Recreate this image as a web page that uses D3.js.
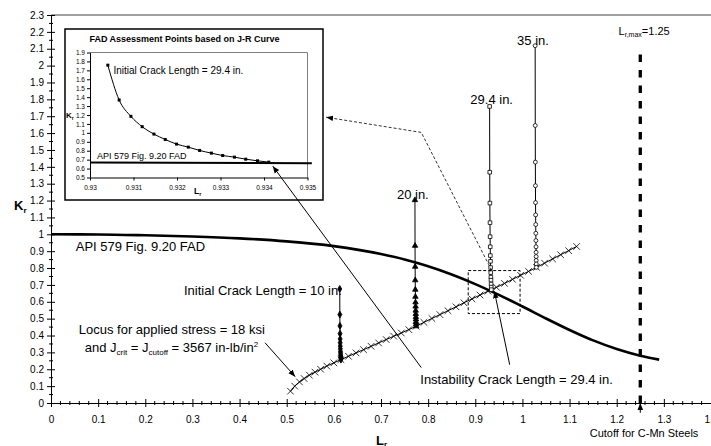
<!DOCTYPE html>
<html>
<head>
<meta charset="utf-8">
<script src="https://cdn.jsdelivr.net/npm/d3@7"></script>
<style>
body { margin: 0; background: #fff; }
svg { display: block; }
</style>
</head>
<body>
<svg width="711" height="446"></svg>
<script>
// ---- data ----

// API 579 Fig. 9.20 FAD curve
var fadLr = [0, 0.1, 0.2, 0.3, 0.4, 0.5, 0.6, 0.7, 0.75, 0.8, 0.85, 0.9, 0.95, 1.0, 1.05, 1.1, 1.15, 1.2, 1.25, 1.29];
var fadKr = [1.0, 0.999, 0.994, 0.987, 0.976, 0.958, 0.930, 0.883, 0.851, 0.811, 0.762, 0.705, 0.641, 0.572, 0.501, 0.433, 0.371, 0.320, 0.280, 0.257];

// locus for applied stress = 18 ksi (one point per inch of crack length)
var locusLr = [0.508, 0.517, 0.527, 0.537, 0.548, 0.560, 0.572, 0.585, 0.600, 0.615,
               0.631, 0.647, 0.663, 0.679, 0.695, 0.711, 0.727, 0.743, 0.759, 0.7745,
               0.791, 0.808, 0.825, 0.842, 0.859, 0.876, 0.893, 0.910, 0.927, 0.945,
               0.962, 0.979, 0.996, 1.013, 1.030, 1.047, 1.064, 1.081, 1.098, 1.115];
var locusKr = [0.070, 0.100, 0.125, 0.145, 0.165, 0.183, 0.200, 0.219, 0.238, 0.257,
               0.277, 0.297, 0.316, 0.336, 0.356, 0.376, 0.396, 0.415, 0.435, 0.455,
               0.478, 0.501, 0.524, 0.547, 0.570, 0.594, 0.617, 0.640, 0.663, 0.686,
               0.709, 0.733, 0.757, 0.780, 0.804, 0.829, 0.854, 0.879, 0.903, 0.928];

// assessment points along the J-R curve, per initial crack length
var lr10 = [0.6125, 0.6127, 0.6129, 0.6131, 0.6133, 0.6134, 0.6136, 0.6138, 0.6140, 0.6142, 0.6144, 0.6145, 0.6147, 0.6149, 0.6150];
var kr10 = [0.676, 0.524, 0.457, 0.411, 0.380, 0.357, 0.337, 0.321, 0.306, 0.296, 0.285, 0.278, 0.270, 0.265, 0.257];

var lr20 = [0.7720, 0.7722, 0.7724, 0.7726, 0.7728, 0.7730, 0.7732, 0.7734, 0.7736, 0.7738, 0.7740, 0.7741, 0.7742, 0.7744, 0.7745];
var kr20 = [1.203, 0.932, 0.808, 0.728, 0.672, 0.630, 0.597, 0.572, 0.548, 0.528, 0.510, 0.496, 0.481, 0.467, 0.455];

var lr29 = [0.93041, 0.93067, 0.93094, 0.93120, 0.93147, 0.93173, 0.93199, 0.93226, 0.93252, 0.93279, 0.93305, 0.93332, 0.93358, 0.93385, 0.93411];
var kr29 = [1.758, 1.368, 1.185, 1.069, 0.986, 0.926, 0.874, 0.840, 0.803, 0.773, 0.746, 0.728, 0.705, 0.687, 0.672];

var lr35 = [1.0270, 1.0272, 1.0274, 1.0276, 1.0278, 1.0280, 1.0282, 1.0284, 1.0286, 1.0288, 1.0290, 1.0291, 1.0292, 1.0294, 1.0295];
var kr35 = [2.118, 1.645, 1.428, 1.288, 1.188, 1.115, 1.058, 1.006, 0.963, 0.926, 0.893, 0.868, 0.845, 0.824, 0.804];

// Lr,max cutoff for C-Mn steels
var lrMax = 1.25;
var cutoffKr = [0, 2.1];

// FAD line as seen in the inset
var insetFadLr = [0.93, 0.9351];
var insetFadKr = [0.668, 0.661];

// tick labels
var xTickValues = [0, 0.1, 0.2, 0.3, 0.4, 0.5, 0.6, 0.7, 0.8, 0.9, 1, 1.1, 1.2, 1.3, 1.4];
var yTickValues = [0, 0.1, 0.2, 0.3, 0.4, 0.5, 0.6, 0.7, 0.8, 0.9, 1, 1.1, 1.2, 1.3, 1.4, 1.5, 1.6, 1.7, 1.8, 1.9, 2, 2.1, 2.2, 2.3];
var insetXTicks = [0.93, 0.931, 0.932, 0.933, 0.934, 0.935];
var insetYTicks = [0.5, 0.6, 0.7, 0.8, 0.9, 1, 1.1, 1.2, 1.3, 1.4, 1.5, 1.6, 1.7, 1.8, 1.9];

// ---- layout ----
var svg = d3.select('svg');
var svgWidth = +svg.attr('width');
var svgHeight = +svg.attr('height');
var font = "'Liberation Sans', Arial, Helvetica, sans-serif";
svg.attr('font-family', font);

var padding = {t: 15, r: 0, b: 43, l: 51};
var chartWidth = svgWidth - padding.l - padding.r;
var chartHeight = svgHeight - padding.t - padding.b;

var chartG = svg.append('g')
    .attr('transform', 'translate(' + [padding.l, padding.t] + ')');

var xScale = d3.scaleLinear().domain([0, 1.4]).range([0, chartWidth]);
var yScale = d3.scaleLinear().domain([0, 2.3]).range([chartHeight, 0]);

var line = d3.line()
    .x(function(d) { return xScale(d[0]); })
    .y(function(d) { return yScale(d[1]); });

// arrow heads
var defs = svg.append('defs');
defs.append('marker')
    .attr('id', 'arrow')
    .attr('viewBox', '0 0 10 10')
    .attr('refX', 10).attr('refY', 5)
    .attr('markerWidth', 7).attr('markerHeight', 7)
    .attr('markerUnits', 'userSpaceOnUse')
    .attr('orient', 'auto')
    .append('path')
    .attr('d', 'M0,1 L10,5 L0,9 z')
    .attr('fill', '#000');

// top border of plot area
chartG.append('line')
    .attr('x1', 0).attr('x2', chartWidth)
    .attr('y1', 0).attr('y2', 0)
    .attr('stroke', '#808080').attr('stroke-width', 1.5);

// ---- axes ----
var xAxisG = chartG.append('g')
    .attr('transform', 'translate(' + [0, chartHeight] + ')')
    .call(d3.axisBottom(xScale).tickValues(xTickValues).tickSize(0).tickSizeOuter(0)
        .tickPadding(12.5).tickFormat(String));
xAxisG.selectAll('.tick line').attr('y1', -4).attr('y2', 4).attr('stroke', '#000');
xAxisG.select('.domain').attr('stroke', '#000');
xAxisG.attr('font-family', font).attr('font-size', 10);
xAxisG.selectAll('text').attr('fill', '#000');

var yAxisG = chartG.append('g')
    .call(d3.axisLeft(yScale).tickValues(yTickValues).tickSize(0).tickSizeOuter(0)
        .tickPadding(7).tickFormat(String));
yAxisG.selectAll('.tick line').attr('x1', -4).attr('x2', 4).attr('stroke', '#000');
yAxisG.select('.domain').attr('stroke', '#000');
yAxisG.attr('font-family', font).attr('font-size', 10);
yAxisG.selectAll('text').attr('fill', '#000');

// minor ticks
var xMinor = d3.range(1, 70).filter(function(i) { return i % 5 !== 0; }).map(function(i) { return i * 0.02; });
var yMinor = d3.range(1, 46, 2).map(function(i) { return i * 0.05; });
chartG.append('g').selectAll('line').data(xMinor).enter().append('line')
    .attr('x1', function(d) { return xScale(d); })
    .attr('x2', function(d) { return xScale(d); })
    .attr('y1', chartHeight - 2).attr('y2', chartHeight + 2)
    .attr('stroke', '#000');
chartG.append('g').selectAll('line').data(yMinor).enter().append('line')
    .attr('y1', function(d) { return yScale(d); })
    .attr('y2', function(d) { return yScale(d); })
    .attr('x1', -2).attr('x2', 2)
    .attr('stroke', '#000');

// axis titles
var kLabel = svg.append('text')
    .attr('x', 14).attr('y', 209.5)
    .attr('font-size', 13).attr('font-weight', 'bold');
kLabel.append('tspan').text('K');
kLabel.append('tspan').attr('font-size', 8).attr('dy', 3).text('r');

var lLabel = svg.append('text')
    .attr('x', 376).attr('y', 445)
    .attr('font-size', 13).attr('font-weight', 'bold');
lLabel.append('tspan').text('L');
lLabel.append('tspan').attr('font-size', 8).attr('dy', 2).text('r');

// ---- series ----

// FAD curve
chartG.append('path')
    .datum(d3.zip(fadLr, fadKr))
    .attr('d', line.curve(d3.curveMonotoneX))
    .attr('fill', 'none')
    .attr('stroke', '#000')
    .attr('stroke-width', 2.6);
line.curve(d3.curveLinear);

// Lr,max cutoff
chartG.append('path')
    .datum(cutoffKr.map(function(k) { return [lrMax, k]; }))
    .attr('d', line)
    .attr('stroke', '#000')
    .attr('stroke-width', 3.3)
    .attr('stroke-dasharray', '7.5,8');

// locus
chartG.append('path')
    .datum(d3.zip(locusLr, locusKr))
    .attr('d', line)
    .attr('fill', 'none')
    .attr('stroke', '#000')
    .attr('stroke-width', 1);
chartG.append('g').selectAll('path')
    .data(d3.zip(locusLr, locusKr))
    .enter().append('path')
    .attr('transform', function(d) { return 'translate(' + [xScale(d[0]), yScale(d[1])] + ')'; })
    .attr('d', d3.symbol().type(d3.symbolX).size(30))
    .attr('fill', 'none')
    .attr('stroke', '#000')
    .attr('stroke-width', 0.8);

var growth = [
    {lr: lr10, kr: kr10, symbol: d3.symbolDiamond, size: 14, fill: '#000'},
    {lr: lr20, kr: kr20, symbol: d3.symbolTriangle, size: 13, fill: '#000'},
    {lr: lr29, kr: kr29, symbol: d3.symbolSquare, size: 13, fill: '#fff'},
    {lr: lr35, kr: kr35, symbol: d3.symbolCircle, size: 12, fill: '#fff'}
];

growth.forEach(function(s) {
    var pts = d3.zip(s.lr, s.kr);
    chartG.append('path')
        .datum(pts)
        .attr('d', line)
        .attr('fill', 'none')
        .attr('stroke', '#000')
        .attr('stroke-width', 1);
    chartG.append('g').selectAll('path')
        .data(pts)
        .enter().append('path')
        .attr('transform', function(d) { return 'translate(' + [xScale(d[0]), yScale(d[1])] + ')'; })
        .attr('d', d3.symbol().type(s.symbol).size(s.size))
        .attr('fill', s.fill)
        .attr('stroke', '#000')
        .attr('stroke-width', 0.8);
});

// ---- annotations (positions in Lr / Kr units) ----
function addText(g, lr, kr, size, anchor) {
    return g.append('text')
        .attr('x', xScale(lr)).attr('y', yScale(kr))
        .attr('font-size', size)
        .attr('text-anchor', anchor || 'start');
}

addText(chartG, 0.0525, 0.899, 13).text('API 579 Fig. 9.20 FAD');
addText(chartG, 0.617, 0.642, 13, 'end').text('Initial Crack Length = 10 in.');
addText(chartG, 0.0589, 0.411, 13).text('Locus for applied stress = 18 ksi');
var jText = addText(chartG, 0.0716, 0.302, 13);
jText.append('tspan').text('and J');
jText.append('tspan').attr('font-size', 8).attr('dy', 3).text('crit');
jText.append('tspan').attr('dy', -3).text(' = J');
jText.append('tspan').attr('font-size', 8).attr('dy', 3).text('cutoff');
jText.append('tspan').attr('dy', -3).text(' = 3567 in-lb/in');
jText.append('tspan').attr('font-size', 8).attr('dy', -5).text('2');

addText(chartG, 0.7338, 1.212, 13).text('20 in.');
addText(chartG, 0.8895, 1.775, 13).text('29.4 in.');
addText(chartG, 0.9887, 2.124, 13).text('35 in.');
addText(chartG, 0.7833, 0.115, 13).text('Instability Crack Length = 29.4 in.');

var lrMaxText = addText(chartG, 1.204, 2.18, 11);
lrMaxText.append('tspan').text('L');
lrMaxText.append('tspan').attr('font-size', 7).attr('dy', 2).text('r,max');
lrMaxText.append('tspan').attr('dy', -2).text('=1.25');

addText(chartG, 1.258, -0.203, 11, 'middle').text('Cutoff for C-Mn Steels');

function arrow(g, pts, dashed) {
    g.append('path')
        .datum(pts)
        .attr('d', line)
        .attr('fill', 'none')
        .attr('stroke', '#000')
        .attr('stroke-width', dashed ? 0.8 : 1)
        .attr('stroke-dasharray', dashed ? '3,2' : null)
        .attr('marker-end', 'url(#arrow)');
}

arrow(chartG, [[0.454, 0.357], [0.518, 0.156]]);
arrow(chartG, [[0.973, 0.227], [0.9405, 0.662]]);
arrow(chartG, [[lrMax, -0.058], [lrMax, 0]]);

// zoom box around the instability point
chartG.append('rect')
    .attr('x', xScale(0.885)).attr('y', yScale(0.785))
    .attr('width', xScale(0.995) - xScale(0.885))
    .attr('height', yScale(0.53) - yScale(0.785))
    .attr('fill', 'none')
    .attr('stroke', '#000')
    .attr('stroke-width', 1)
    .attr('stroke-dasharray', '3,2');
arrow(chartG, [[0.9348, 0.786], [0.7854, 1.604], [0.5836, 1.694]], true);

// ---- inset: FAD assessment points based on J-R curve ----
var insetBox = {x: 65, y: 29, w: 258, h: 171};
var insetG = svg.append('g');
insetG.append('rect')
    .attr('x', insetBox.x).attr('y', insetBox.y)
    .attr('width', insetBox.w).attr('height', insetBox.h)
    .attr('fill', '#fff')
    .attr('stroke', '#000')
    .attr('stroke-width', 1.5);

var insetX = d3.scaleLinear().domain([0.93, 0.935]).range([90, 307.5]);
var insetY = d3.scaleLinear().domain([0.5, 1.9]).range([177.5, 52.5]);
var insetLine = d3.line()
    .x(function(d) { return insetX(d[0]); })
    .y(function(d) { return insetY(d[1]); });

insetG.append('text')
    .attr('x', 184.5).attr('y', 41.5)
    .attr('text-anchor', 'middle')
    .attr('font-size', 9).attr('font-weight', 'bold')
    .text('FAD Assessment Points based on J-R Curve');

// plot-area border (top / right)
insetG.append('path')
    .attr('d', 'M' + insetX(0.93) + ',' + insetY(1.9) + 'H' + insetX(0.935) + 'V' + insetY(0.5))
    .attr('fill', 'none')
    .attr('stroke', '#808080')
    .attr('stroke-width', 1);

var ixG = insetG.append('g')
    .attr('transform', 'translate(0,' + insetY(0.5) + ')')
    .call(d3.axisBottom(insetX).tickValues(insetXTicks).tickSize(3).tickSizeOuter(0)
        .tickPadding(5).tickFormat(String));
ixG.attr('font-family', font).attr('font-size', 6.5);
ixG.selectAll('line, .domain').attr('stroke', '#000');
ixG.selectAll('text').attr('fill', '#000');

var iyG = insetG.append('g')
    .attr('transform', 'translate(' + insetX(0.93) + ',0)')
    .call(d3.axisLeft(insetY).tickValues(insetYTicks).tickSize(3).tickSizeOuter(0)
        .tickPadding(2).tickFormat(String));
iyG.attr('font-family', font).attr('font-size', 6.5);
iyG.selectAll('line, .domain').attr('stroke', '#000');
iyG.selectAll('text').attr('fill', '#000');

var ikLabel = insetG.append('text')
    .attr('x', 66).attr('y', 118)
    .attr('font-size', 8).attr('font-weight', 'bold');
ikLabel.append('tspan').text('K');
ikLabel.append('tspan').attr('font-size', 5).attr('dy', 2).text('r');

var ilLabel = insetG.append('text')
    .attr('x', 194).attr('y', 194)
    .attr('font-size', 8.5).attr('font-weight', 'bold');
ilLabel.append('tspan').text('L');
ilLabel.append('tspan').attr('font-size', 5.5).attr('dy', 2).text('r');

insetG.append('path')
    .datum(d3.zip(insetFadLr, insetFadKr))
    .attr('d', insetLine)
    .attr('fill', 'none')
    .attr('stroke', '#000')
    .attr('stroke-width', 2);

insetG.append('text')
    .attr('x', insetX(0.93016)).attr('y', insetY(0.707))
    .attr('font-size', 9)
    .text('API 579 Fig. 9.20 FAD');

var insetPts = d3.zip(lr29, kr29);
insetG.append('path')
    .datum(insetPts)
    .attr('d', insetLine.curve(d3.curveMonotoneX))
    .attr('fill', 'none')
    .attr('stroke', '#000')
    .attr('stroke-width', 1);
insetG.append('g').selectAll('rect')
    .data(insetPts)
    .enter().append('rect')
    .attr('x', function(d) { return insetX(d[0]) - 1.5; })
    .attr('y', function(d) { return insetY(d[1]) - 1.5; })
    .attr('width', 3).attr('height', 3)
    .attr('fill', '#000');

insetG.append('text')
    .attr('x', insetX(0.93054)).attr('y', insetY(1.654))
    .attr('font-size', 10)
    .text('Initial Crack Length = 29.4 in.');

// long arrow from the instability label to the inset end point
var lastPt = insetPts[insetPts.length - 1];
svg.append('line')
    .attr('x1', padding.l + xScale(0.7854)).attr('y1', padding.t + yScale(0.210))
    .attr('x2', insetX(lastPt[0]) + 4).attr('y2', insetY(lastPt[1]) + 4)
    .attr('stroke', '#000')
    .attr('stroke-width', 1)
    .attr('marker-end', 'url(#arrow)');
</script>
</body>
</html>
